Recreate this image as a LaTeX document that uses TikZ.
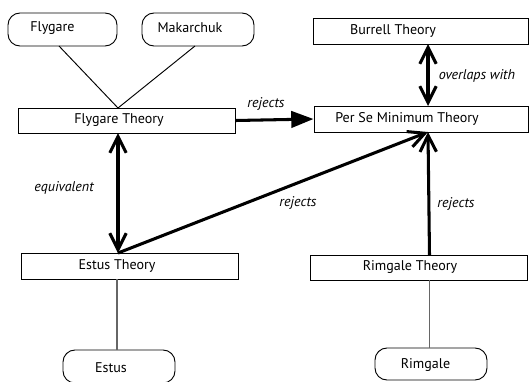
\documentclass[tikz,border=0pt]{standalone}
\usepackage{fontspec}
\setmainfont{PT Sans}
\usepackage{tikz}
\usetikzlibrary{arrows.meta}
\usepackage{xcolor}

\begin{document}
\begin{tikzpicture}[x=0.03cm, y=-0.03cm,
		person/.style={draw=black, line width=0.8pt, rounded corners=0.36cm, minimum width=3.36cm, minimum height=0.99cm, inner sep=0pt},
		theory/.style={draw=black, line width=0.8pt, minimum width=6.51cm, minimum height=0.78cm, inner sep=0pt},
		txt/.style={font=\fontsize{12}{14}\selectfont, inner sep=0pt},
		rel/.style={font=\fontsize{12}{14}\selectfont\itshape, inner sep=0pt},
		thick link/.style={black, line width=2.6pt},
		vee/.tip={Straight Barb[length=14pt, width=14pt]},
		tri/.tip={Triangle[length=19pt, width=14pt]}]
	\useasboundingbox (0, 0) rectangle (529, 381);
	% people
	\node[person, minimum width=3.27cm] (flygare) at (62.5, 29.5) {};
	\node[person] (makarchuk) at (198, 29.5) {};
	\node[person] (estus) at (119, 366.5) {};
	\node[person, minimum height=0.96cm] (rimgale) at (431, 364) {};
	\node[txt] (flygare-t) at (52.5, 28) {Flygare};
	\node[txt] (makarchuk-t) at (190, 28) {Makarchuk};
	\node[txt] (estus-t) at (111, 368) {Estus};
	\node[txt] (rimgale-t) at (425.5, 365) {Rimgale};
	% theories
	\node[theory, minimum height=0.75cm] (flyT) at (126.5, 120.5) {};
	\node[theory, minimum width=6.45cm] (burrell) at (420.5, 31) {};
	\node[theory, minimum width=6.42cm] (perse) at (421, 119) {};
	\node[theory] (estusT) at (129.5, 266) {};
	\node[theory, minimum height=0.75cm] (rimT) at (418.5, 267.5) {};
	\node[txt] (flyT-t) at (119, 120.5) {Flygare Theory};
	\node[txt] (burrell-t) at (393, 31) {Burrell Theory};
	\node[txt] (perse-t) at (407, 119) {Per Se Minimum Theory};
	\node[txt] (estusT-t) at (117, 266) {Estus Theory};
	\node[txt] (rimT-t) at (410, 267.5) {Rimgale Theory};
	% anchor points
	\coordinate (fl-b) at (59, 46);
	\coordinate (mk-b) at (195, 46);
	\coordinate (fT-t) at (118, 108);
	\coordinate (fT-b) at (118, 133);
	\coordinate (eT-t) at (118, 253);
	\coordinate (eT-b) at (117, 279);
	\coordinate (es-t) at (117, 350);
	\coordinate (bu-b) at (428, 44);
	\coordinate (ps-t) at (428, 106);
	\coordinate (ps-b) at (428, 132);
	\coordinate (rT-t) at (429.5, 255);
	\coordinate (rT-b) at (429.5, 280);
	\coordinate (rg-t) at (429.5, 348);
	% links
	\draw[black, line width=0.8pt] (fl-b) -- (fT-t) -- (mk-b);
	\draw[black!60, line width=0.9pt] (eT-b) -- (es-t);
	\draw[black!60, line width=0.9pt] (rT-b) -- (rg-t);
	\draw[thick link, -tri] (flyT.east) -- (perse.west);
	\draw[thick link, vee-vee] (fT-b) -- (eT-t);
	\draw[thick link, vee-vee] (bu-b) -- (ps-t);
	\draw[thick link, -vee] (eT-t) -- (ps-b);
	\draw[thick link, -vee] (rT-t) -- (ps-b);
	% labels
	\node[rel] (l-rej1) at (266, 104) {rejects};
	\node[rel] (l-over) at (477, 76) {overlaps with};
	\node[rel] (l-eq) at (64, 188) {equivalent};
	\node[rel] (l-rej2) at (298, 203) {rejects};
	\node[rel] (l-rej3) at (456, 204) {rejects};
\end{tikzpicture}
\end{document}
